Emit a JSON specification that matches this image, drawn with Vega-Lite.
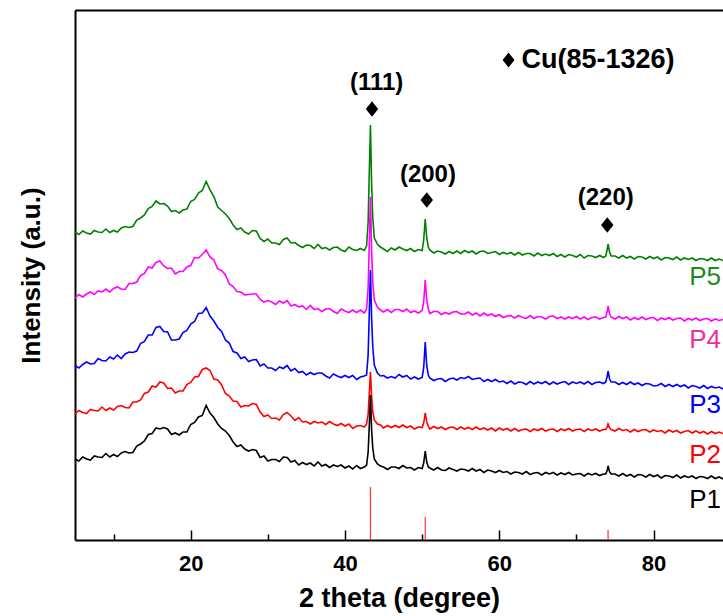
{
"$schema":"https://vega.github.io/schema/vega-lite/v6.json",
"width":648,"height":530,
"autosize":"none",
"padding":{"left":75,"top":10,"right":0,"bottom":76},
"config":{"view":{"stroke":null},"font":"Liberation Sans"},
"datasets":{
"xrd":[
{"x":5,"P1":81,"P2":126,"P3":174.5,"P4":242,"P5":308},
{"x":5.5,"P1":79,"P2":129.5,"P3":172,"P4":245.5,"P5":305.5},
{"x":6,"P1":83,"P2":127.5,"P3":175.5,"P4":243,"P5":309},
{"x":6.5,"P1":81,"P2":126.5,"P3":178,"P4":246,"P5":307},
{"x":7,"P1":80,"P2":130.5,"P3":176,"P4":248,"P5":306},
{"x":7.5,"P1":84,"P2":129.5,"P3":176.5,"P4":245.5,"P5":309.5},
{"x":8,"P1":83,"P2":129,"P3":181.5,"P4":249,"P5":308},
{"x":8.5,"P1":82.5,"P2":133,"P3":179.5,"P4":248,"P5":307.5},
{"x":9,"P1":86.5,"P2":129.5,"P3":179,"P4":251,"P5":311},
{"x":9.5,"P1":83,"P2":132,"P3":183,"P4":248,"P5":307.5},
{"x":10,"P1":85.5,"P2":130,"P3":181,"P4":251.5,"P5":309.5},
{"x":10.5,"P1":83.5,"P2":133.5,"P3":185,"P4":253,"P5":308},
{"x":11,"P1":87,"P2":134.5,"P3":181.5,"P4":251,"P5":312},
{"x":11.5,"P1":88.5,"P2":132.5,"P3":186,"P4":250.5,"P5":313.5},
{"x":12,"P1":87,"P2":132,"P3":188,"P4":256.5,"P5":312.5},
{"x":12.5,"P1":87.5,"P2":138,"P3":187.5,"P4":256.5,"P5":313.5},
{"x":13,"P1":94,"P2":138,"P3":189,"P4":258,"P5":320},
{"x":13.5,"P1":96,"P2":140,"P3":196.5,"P4":264.5,"P5":322},
{"x":14,"P1":99,"P2":146.5,"P3":198.5,"P4":266.5,"P5":325},
{"x":14.5,"P1":105.5,"P2":148,"P3":205,"P4":273,"P5":331.5},
{"x":15,"P1":106.5,"P2":154,"P3":205,"P4":272,"P5":333.5},
{"x":15.5,"P1":112,"P2":153,"P3":212.5,"P4":277.5,"P5":339},
{"x":16,"P1":111,"P2":158,"P3":213.5,"P4":279,"P5":336},
{"x":16.5,"P1":112.5,"P2":157,"P3":208.5,"P4":274,"P5":336.5},
{"x":17,"P1":111,"P2":151.5,"P3":208,"P4":271.5,"P5":334},
{"x":17.5,"P1":105.5,"P2":152,"P3":200,"P4":272,"P5":328.5},
{"x":18,"P1":107,"P2":147,"P3":200,"P4":266,"P5":329.5},
{"x":18.5,"P1":105,"P2":149,"P3":201,"P4":268.5,"P5":327},
{"x":19,"P1":108,"P2":149,"P3":207.5,"P4":268.5,"P5":330},
{"x":19.5,"P1":108,"P2":155.5,"P3":209.5,"P4":273,"P5":331},
{"x":20,"P1":115.5,"P2":157.5,"P3":216,"P4":274.5,"P5":338.5},
{"x":20.5,"P1":117.5,"P2":163,"P3":218.5,"P4":282.5,"P5":340.5},
{"x":21,"P1":123,"P2":163.5,"P3":226.5,"P4":282,"P5":347},
{"x":21.5,"P1":124.5,"P2":170.5,"P3":227,"P4":285.5,"P5":349.5},
{"x":22,"P1":134.5,"P2":172,"P3":232.5,"P4":290,"P5":358.5},
{"x":22.5,"P1":127,"P2":169.5,"P3":224,"P4":283,"P5":350},
{"x":23,"P1":122.5,"P2":161,"P3":219,"P4":280,"P5":343.5},
{"x":23.5,"P1":116,"P2":160,"P3":212.5,"P4":271,"P5":333},
{"x":24,"P1":111.5,"P2":155,"P3":208.5,"P4":269.5,"P5":329.5},
{"x":24.5,"P1":109,"P2":146.5,"P3":200,"P4":265,"P5":326},
{"x":25,"P1":104.5,"P2":144,"P3":197,"P4":256,"P5":321.5},
{"x":25.5,"P1":98,"P2":139,"P3":188.5,"P4":253.5,"P5":315},
{"x":26,"P1":93.5,"P2":138.5,"P3":187,"P4":248.5,"P5":310.5},
{"x":26.5,"P1":95,"P2":133,"P3":181.5,"P4":248,"P5":312},
{"x":27,"P1":91,"P2":134.5,"P3":183,"P4":245,"P5":308},
{"x":27.5,"P1":89,"P2":134,"P3":178.5,"P4":245.5,"P5":306},
{"x":28,"P1":90.5,"P2":136.5,"P3":180,"P4":246,"P5":309.5},
{"x":28.5,"P1":89.5,"P2":135.5,"P3":180.5,"P4":246,"P5":309},
{"x":29,"P1":82.5,"P2":128,"P3":174,"P4":240.5,"P5":301.5},
{"x":29.5,"P1":84,"P2":123.5,"P3":176,"P4":238,"P5":298.5},
{"x":30,"P1":79,"P2":125,"P3":172,"P4":239.5,"P5":301},
{"x":30.5,"P1":80.5,"P2":121.5,"P3":172,"P4":238,"P5":297},
{"x":31,"P1":80.5,"P2":122,"P3":169.5,"P4":235.5,"P5":297},
{"x":31.5,"P1":78.5,"P2":120,"P3":173,"P4":239,"P5":295.5},
{"x":32,"P1":83,"P2":125.5,"P3":171.5,"P4":237,"P5":300.5},
{"x":32.5,"P1":82.5,"P2":127.5,"P3":174.5,"P4":239.5,"P5":302},
{"x":33,"P1":78,"P2":124,"P3":169,"P4":234,"P5":297},
{"x":33.5,"P1":79.5,"P2":119.5,"P3":171.5,"P4":235.5,"P5":297.5},
{"x":34,"P1":75,"P2":122.5,"P3":167.5,"P4":233,"P5":294.5},
{"x":34.5,"P1":77.5,"P2":118,"P3":168.5,"P4":234,"P5":292.5},
{"x":35,"P1":75.5,"P2":118.5,"P3":165,"P4":230.5,"P5":295},
{"x":35.5,"P1":77,"P2":116,"P3":167.5,"P4":234.5,"P5":294.5},
{"x":36,"P1":74,"P2":118.5,"P3":165.5,"P4":230.5,"P5":291.5},
{"x":36.5,"P1":78,"P2":117,"P3":167,"P4":231.5,"P5":295.5},
{"x":37,"P1":74,"P2":118,"P3":167,"P4":228.5,"P5":291.5},
{"x":37.5,"P1":75.5,"P2":115.5,"P3":164,"P4":231,"P5":292.5},
{"x":38,"P1":72.5,"P2":118.5,"P3":162,"P4":231.5,"P5":290},
{"x":38.5,"P1":75,"P2":116,"P3":166,"P4":228.5,"P5":292.5},
{"x":39,"P1":73.5,"P2":114.5,"P3":164,"P4":226.5,"P5":293},
{"x":39.5,"P1":75,"P2":116.5,"P3":162.5,"P4":231,"P5":290},
{"x":40,"P1":72,"P2":114,"P3":164.5,"P4":229,"P5":288.5},
{"x":40.5,"P1":74,"P2":116,"P3":162.5,"P4":227.5,"P5":293},
{"x":41,"P1":71,"P2":111.5,"P3":164.5,"P4":230,"P5":290.5},
{"x":41.5,"P1":74.5,"P2":114,"P3":160.5,"P4":227.5,"P5":289.5},
{"x":42,"P1":71.5,"P2":114.5,"P3":163,"P4":230,"P5":291.5},
{"x":42.5,"P1":73,"P2":113,"P3":164,"P4":227,"P5":289.5},
{"x":42.8,"P1":75,"P2":116,"P3":165,"P4":231,"P5":294},
{"x":43.0,"P1":88,"P2":126,"P3":185,"P4":252,"P5":318},
{"x":43.15,"P1":115,"P2":147,"P3":228,"P4":298,"P5":368},
{"x":43.3,"P1":145,"P2":168,"P3":270,"P4":343,"P5":415},
{"x":43.45,"P1":110,"P2":143,"P3":222,"P4":290,"P5":356},
{"x":43.6,"P1":92,"P2":128,"P3":193,"P4":258,"P5":322},
{"x":43.8,"P1":81,"P2":120,"P3":175,"P4":240,"P5":302},
{"x":44.2,"P1":76,"P2":116,"P3":167,"P4":233,"P5":296},
{"x":44.6,"P1":74,"P2":115,"P3":164,"P4":230,"P5":293},
{"x":45,"P1":73,"P2":112,"P3":164.5,"P4":228,"P5":291},
{"x":45.5,"P1":70.5,"P2":114.5,"P3":162,"P4":230.5,"P5":288.5},
{"x":46,"P1":73,"P2":112.5,"P3":163.5,"P4":227.5,"P5":292},
{"x":46.5,"P1":73,"P2":114.5,"P3":162,"P4":230.5,"P5":290},
{"x":47,"P1":71.5,"P2":112.5,"P3":165.5,"P4":230.5,"P5":293},
{"x":47.5,"P1":74.5,"P2":115,"P3":163,"P4":228.5,"P5":291},
{"x":48,"P1":72,"P2":112.5,"P3":164.5,"P4":231,"P5":289.5},
{"x":48.5,"P1":72.5,"P2":114,"P3":161,"P4":227.5,"P5":291.5},
{"x":49,"P1":70,"P2":111,"P3":163,"P4":229,"P5":288.5},
{"x":49.5,"P1":72.5,"P2":113,"P3":161,"P4":227,"P5":290.5},
{"x":50,"P1":71.5,"P2":112.5,"P3":162.5,"P4":229.5,"P5":289.5},
{"x":50.2,"P1":77,"P2":117,"P3":172,"P4":238,"P5":300},
{"x":50.4,"P1":89,"P2":127,"P3":198,"P4":260,"P5":321},
{"x":50.6,"P1":78,"P2":118,"P3":174,"P4":240,"P5":302},
{"x":50.8,"P1":73,"P2":114,"P3":165,"P4":231,"P5":293},
{"x":51,"P1":72,"P2":111,"P3":162,"P4":226.5,"P5":290},
{"x":51.5,"P1":70,"P2":113.5,"P3":159.5,"P4":228.5,"P5":287},
{"x":52,"P1":72.5,"P2":111.5,"P3":161,"P4":228.5,"P5":289},
{"x":52.5,"P1":70,"P2":113,"P3":161.5,"P4":225.5,"P5":288},
{"x":53,"P1":69.5,"P2":110.5,"P3":158.5,"P4":227.5,"P5":286},
{"x":53.5,"P1":72,"P2":112.5,"P3":161,"P4":226,"P5":288.5},
{"x":54,"P1":70.5,"P2":113,"P3":162,"P4":228,"P5":286.5},
{"x":54.5,"P1":69,"P2":110.5,"P3":160,"P4":228.5,"P5":289},
{"x":55,"P1":71,"P2":113,"P3":162.5,"P4":226,"P5":286.5},
{"x":55.5,"P1":70.5,"P2":111,"P3":161.5,"P4":226,"P5":289.5},
{"x":56,"P1":69,"P2":112.5,"P3":163.5,"P4":228,"P5":287.5},
{"x":56.5,"P1":71.5,"P2":110.5,"P3":160.5,"P4":225,"P5":289},
{"x":57,"P1":69,"P2":113,"P3":161.5,"P4":227,"P5":286},
{"x":57.5,"P1":70.5,"P2":110.5,"P3":162,"P4":224,"P5":288.5},
{"x":58,"P1":67.5,"P2":112,"P3":158.5,"P4":227,"P5":289},
{"x":58.5,"P1":70,"P2":110,"P3":160.5,"P4":224.5,"P5":286.5},
{"x":59,"P1":69,"P2":112,"P3":158.5,"P4":226,"P5":287.5},
{"x":59.5,"P1":67.5,"P2":109,"P3":160.5,"P4":223.5,"P5":288.5},
{"x":60,"P1":69.5,"P2":112,"P3":158,"P4":225.5,"P5":285.5},
{"x":60.5,"P1":67.5,"P2":110,"P3":159,"P4":222.5,"P5":287.5},
{"x":61,"P1":68.5,"P2":111.5,"P3":156.5,"P4":224,"P5":286},
{"x":61.5,"P1":66,"P2":109,"P3":159,"P4":224.5,"P5":287.5},
{"x":62,"P1":68,"P2":111.5,"P3":156,"P4":222,"P5":285},
{"x":62.5,"P1":67.5,"P2":109,"P3":158,"P4":224.5,"P5":287.5},
{"x":63,"P1":66,"P2":110.5,"P3":157.5,"P4":222.5,"P5":285},
{"x":63.5,"P1":68.5,"P2":111,"P3":155.5,"P4":221.5,"P5":286.5},
{"x":64,"P1":65.5,"P2":108.5,"P3":158.5,"P4":224.5,"P5":286.5},
{"x":64.5,"P1":67,"P2":111,"P3":156,"P4":221.5,"P5":284},
{"x":65,"P1":67.5,"P2":109.5,"P3":158,"P4":223.5,"P5":287},
{"x":65.5,"P1":65,"P2":111.5,"P3":156.5,"P4":223,"P5":284.5},
{"x":66,"P1":67.5,"P2":109,"P3":158.5,"P4":221,"P5":286},
{"x":66.5,"P1":66,"P2":110.5,"P3":155.5,"P4":223.5,"P5":284.5},
{"x":67,"P1":67.5,"P2":111,"P3":158,"P4":224,"P5":286.5},
{"x":67.5,"P1":65,"P2":108.5,"P3":156,"P4":221.5,"P5":283.5},
{"x":68,"P1":67,"P2":111,"P3":157.5,"P4":223,"P5":285.5},
{"x":68.5,"P1":65.5,"P2":109.5,"P3":158.5,"P4":221,"P5":283},
{"x":69,"P1":67.5,"P2":111.5,"P3":155.5,"P4":223,"P5":285.5},
{"x":69.5,"P1":65,"P2":109,"P3":158,"P4":221.5,"P5":284.5},
{"x":70,"P1":66,"P2":110.5,"P3":156.5,"P4":223.5,"P5":283},
{"x":70.5,"P1":66.5,"P2":111,"P3":158,"P4":221,"P5":285.5},
{"x":71,"P1":64,"P2":108.5,"P3":156,"P4":223,"P5":282},
{"x":71.5,"P1":66.5,"P2":111,"P3":158.5,"P4":220.5,"P5":284.5},
{"x":72,"P1":65,"P2":109.5,"P3":155.5,"P4":222.5,"P5":284},
{"x":72.5,"P1":66.5,"P2":111,"P3":157.5,"P4":223,"P5":282.5},
{"x":73,"P1":64.5,"P2":109,"P3":158,"P4":221,"P5":284.5},
{"x":73.5,"P1":66,"P2":110.5,"P3":156.5,"P4":222.5,"P5":282.5},
{"x":73.8,"P1":66,"P2":110.5,"P3":158,"P4":223,"P5":284},
{"x":74.0,"P1":70,"P2":113,"P3":164,"P4":229,"P5":291},
{"x":74.1,"P1":74,"P2":116,"P3":169,"P4":234,"P5":296},
{"x":74.3,"P1":68,"P2":112,"P3":161,"P4":226,"P5":288},
{"x":74.5,"P1":66,"P2":110.5,"P3":158,"P4":223,"P5":284},
{"x":75,"P1":66,"P2":109,"P3":158,"P4":221,"P5":284},
{"x":75.5,"P1":64,"P2":111.5,"P3":155.5,"P4":223.5,"P5":282},
{"x":76,"P1":66.5,"P2":109.5,"P3":157.5,"P4":221.5,"P5":284.5},
{"x":76.5,"P1":64,"P2":110.5,"P3":155.5,"P4":223,"P5":282},
{"x":77,"P1":65.5,"P2":108,"P3":158,"P4":220,"P5":283.5},
{"x":77.5,"P1":63,"P2":110.5,"P3":155.5,"P4":222.5,"P5":281},
{"x":78,"P1":65.5,"P2":108.5,"P3":157,"P4":220.5,"P5":283.5},
{"x":78.5,"P1":65,"P2":110,"P3":154.5,"P4":223,"P5":283},
{"x":79,"P1":63,"P2":110.5,"P3":156.5,"P4":220.5,"P5":281},
{"x":79.5,"P1":65.5,"P2":108,"P3":156,"P4":222,"P5":283.5},
{"x":80,"P1":63.5,"P2":110,"P3":154,"P4":222.5,"P5":281.5},
{"x":80.5,"P1":65,"P2":108.5,"P3":154.5,"P4":219.5,"P5":283},
{"x":81,"P1":62,"P2":109.5,"P3":156.5,"P4":222,"P5":280},
{"x":81.5,"P1":64.5,"P2":107,"P3":153.5,"P4":220.5,"P5":282.5},
{"x":82,"P1":64,"P2":110,"P3":155.5,"P4":222.5,"P5":282},
{"x":82.5,"P1":62.5,"P2":108,"P3":153.5,"P4":220,"P5":280.5},
{"x":83,"P1":65,"P2":109.5,"P3":155.5,"P4":221.5,"P5":283},
{"x":83.5,"P1":62,"P2":107,"P3":153.5,"P4":222,"P5":280},
{"x":84,"P1":64,"P2":108.5,"P3":155,"P4":219,"P5":282},
{"x":84.5,"P1":62.5,"P2":109.5,"P3":152,"P4":221.5,"P5":280.5},
{"x":85,"P1":64,"P2":107,"P3":154.5,"P4":220,"P5":282},
{"x":85.5,"P1":61.5,"P2":109,"P3":153.5,"P4":222,"P5":279.5},
{"x":86,"P1":63.5,"P2":107,"P3":152,"P4":219.5,"P5":281.5},
{"x":86.5,"P1":63,"P2":108.5,"P3":154.5,"P4":221,"P5":281},
{"x":87,"P1":61.5,"P2":106,"P3":151.5,"P4":221.5,"P5":279.5},
{"x":87.5,"P1":64,"P2":108.5,"P3":153.5,"P4":219,"P5":282},
{"x":88,"P1":61.5,"P2":106.5,"P3":152,"P4":221,"P5":279.5},
{"x":88.5,"P1":63,"P2":108,"P3":153,"P4":219.5,"P5":281},
{"x":89,"P1":61,"P2":106.5,"P3":151,"P4":220.5,"P5":279.5}
],
"sticks":[{"x":43.3,"h":53},{"x":50.4,"h":23},{"x":74.1,"h":10}],
"hkl":[{"x":44.1,"y":457,"t":"(111)"},{"x":50.75,"y":365,"t":"(200)"},{"x":73.8,"y":342,"t":"(220)"}],
"diam":[{"x":43.5,"y":431},{"x":50.6,"y":340},{"x":74.0,"y":315}],
"key":[{"x":61.2,"y":480,"t":"Cu(85-1326)"}],
"names":[{"x":89,"y":263,"t":"P5"},{"x":89,"y":200,"t":"P4"},{"x":89,"y":135,"t":"P3"},{"x":89,"y":85,"t":"P2"},{"x":89,"y":40,"t":"P1"}]
},
"resolve":{"axis":{"x":"independent","y":"independent"}},
"layer":[
{"data":{"name":"xrd"},"mark":{"type":"line","color":"#008000","strokeWidth":1.6},
 "encoding":{
  "x":{"field":"x","type":"quantitative","scale":{"domain":[5,89],"nice":false,"zero":false},
   "axis":{"orient":"bottom","values":[20,40,60,80],"tickSize":-10,"tickWidth":1.5,"tickColor":"black","domainColor":"black","domainWidth":2,"grid":false,
    "labelFont":"Liberation Sans","labelFontSize":22,"labelFontWeight":"bold","labelColor":"black","labelPadding":23,"labelFlush":false,
    "title":"2 theta (degree)","titleFont":"Liberation Sans","titleFontSize":27,"titleFontWeight":"bold","titleColor":"black","titlePadding":11}},
  "y":{"field":"P5","type":"quantitative","scale":{"domain":[0,530],"nice":false,"zero":false},
   "axis":{"orient":"left","ticks":false,"labels":false,"grid":false,"domainColor":"black","domainWidth":2,
    "title":"Intensity (a.u.)","titleFont":"Liberation Sans","titleFontSize":26,"titleFontWeight":"bold","titleColor":"black","titlePadding":31}}}},
{"data":{"name":"xrd"},"mark":{"type":"line","color":"#ff00ff","strokeWidth":1.6},
 "encoding":{
  "x":{"field":"x","type":"quantitative","axis":{"orient":"bottom","values":[10,30,50,70],"tickSize":-6,"tickWidth":1.5,"tickColor":"black","domain":false,"labels":false,"grid":false,"title":null}},
  "y":{"field":"P4","type":"quantitative","axis":null}}},
{"data":{"name":"xrd"},"mark":{"type":"line","color":"#0000ff","strokeWidth":1.6},
 "encoding":{
  "x":{"field":"x","type":"quantitative","axis":{"orient":"top","ticks":false,"labels":false,"grid":false,"domainColor":"black","domainWidth":2,"title":null}},
  "y":{"field":"P3","type":"quantitative","axis":null}}},
{"data":{"name":"xrd"},"mark":{"type":"line","color":"#ff0000","strokeWidth":1.6},
 "encoding":{
  "x":{"field":"x","type":"quantitative","axis":null},
  "y":{"field":"P2","type":"quantitative","axis":null}}},
{"data":{"name":"xrd"},"mark":{"type":"line","color":"#000000","strokeWidth":1.6},
 "encoding":{
  "x":{"field":"x","type":"quantitative","axis":null},
  "y":{"field":"P1","type":"quantitative","axis":null}}},
{"data":{"name":"sticks"},"mark":{"type":"rule","color":"#ff3333","strokeWidth":1.2},
 "encoding":{
  "x":{"field":"x","type":"quantitative","axis":null},
  "y":{"field":"h","type":"quantitative","axis":null},
  "y2":{"datum":0}}},
{"data":{"name":"hkl"},"mark":{"type":"text","font":"Liberation Sans","fontSize":24,"fontWeight":"bold","color":"black","align":"center","baseline":"middle"},
 "encoding":{
  "x":{"field":"x","type":"quantitative","axis":null},
  "y":{"field":"y","type":"quantitative","axis":null},
  "text":{"field":"t","type":"nominal"}}},
{"data":{"name":"diam"},"mark":{"type":"point","shape":"M0,-1L0.8,0L0,1L-0.8,0Z","filled":true,"color":"black","opacity":1,"size":240},
 "encoding":{
  "x":{"field":"x","type":"quantitative","axis":null},
  "y":{"field":"y","type":"quantitative","axis":null}}},
{"data":{"name":"key"},"mark":{"type":"point","shape":"M0,-1L0.8,0L0,1L-0.8,0Z","filled":true,"color":"black","opacity":1,"size":220},
 "encoding":{
  "x":{"field":"x","type":"quantitative","axis":null},
  "y":{"field":"y","type":"quantitative","axis":null}}},
{"data":{"name":"key"},"mark":{"type":"text","font":"Liberation Sans","fontSize":27,"fontWeight":"bold","color":"black","align":"left","baseline":"middle","dx":13},
 "encoding":{
  "x":{"field":"x","type":"quantitative","axis":null},
  "y":{"field":"y","type":"quantitative","axis":null},
  "text":{"field":"t","type":"nominal"}}},
{"data":{"name":"names"},"mark":{"type":"text","font":"Liberation Sans","fontSize":26,"align":"right","baseline":"middle","dx":-2},
 "encoding":{
  "x":{"field":"x","type":"quantitative","axis":null},
  "y":{"field":"y","type":"quantitative","axis":null},
  "text":{"field":"t","type":"nominal"},
  "color":{"field":"t","type":"nominal","legend":null,"scale":{"domain":["P1","P2","P3","P4","P5"],"range":["#000000","#ff0000","#0000ff","#f0309a","#1a8c1a"]}}}}
]
}
